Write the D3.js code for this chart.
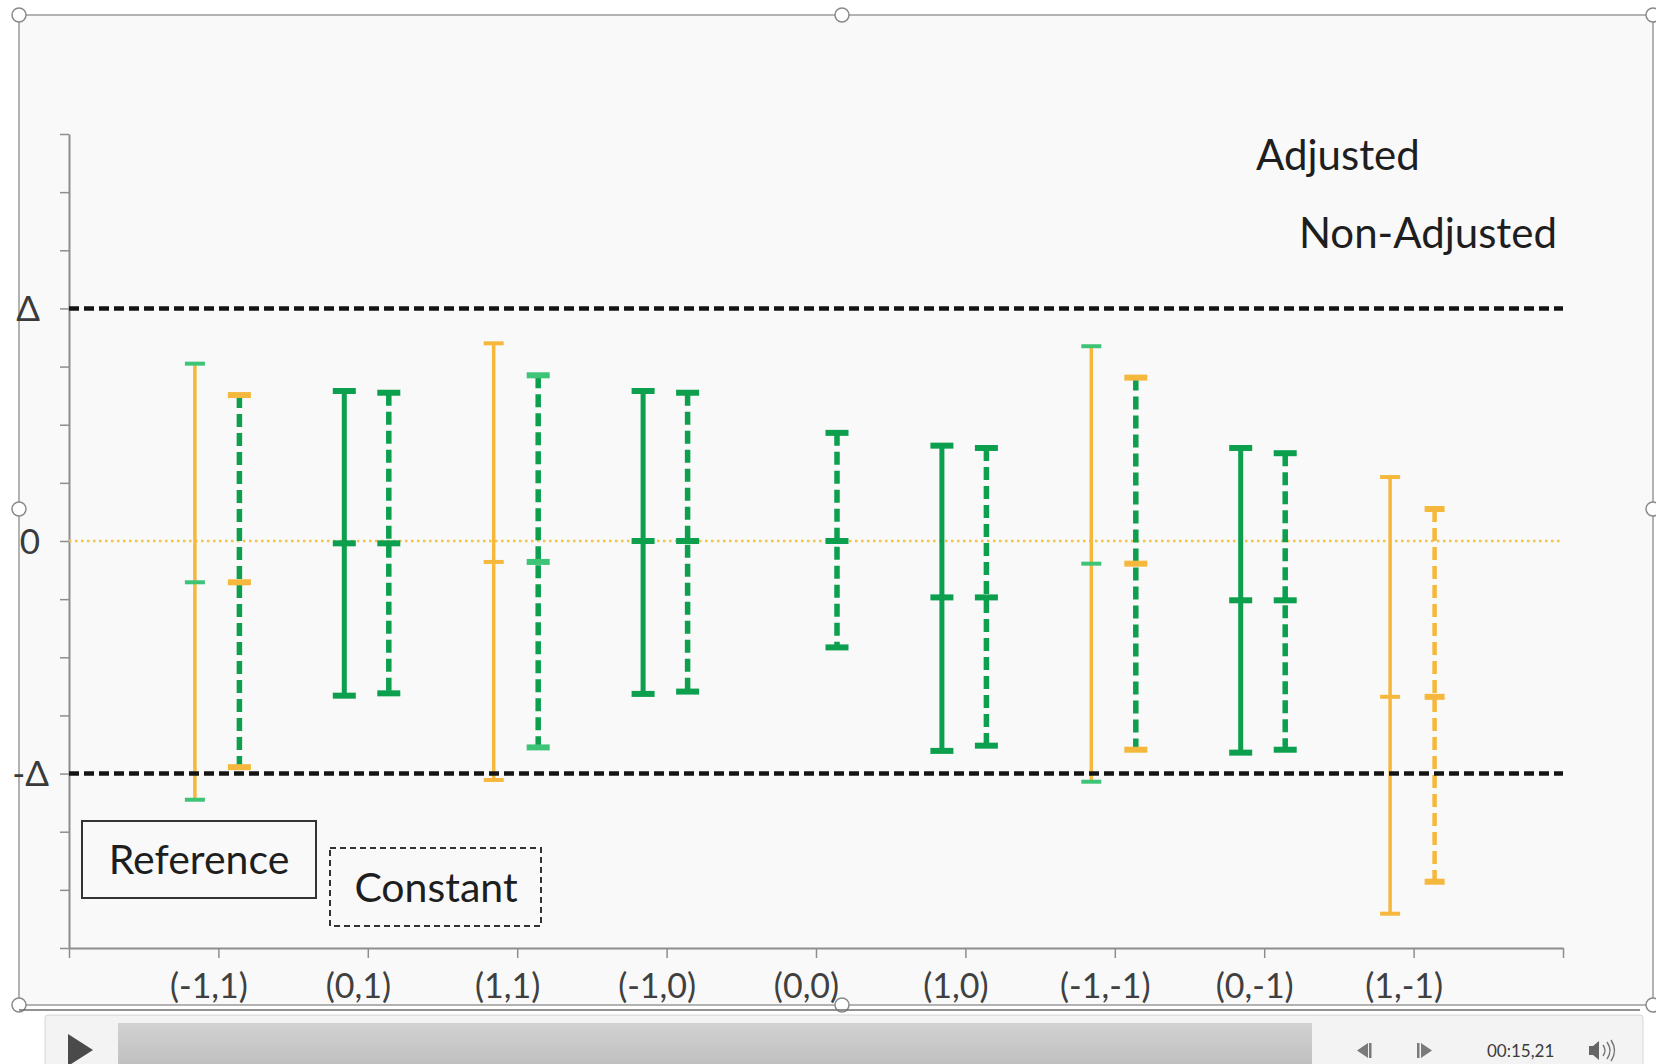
<!DOCTYPE html>
<html>
<head>
<meta charset="utf-8">
<script src="https://cdn.jsdelivr.net/npm/d3@7"></script>
<style>
  html, body { margin: 0; padding: 0; background: #ffffff; }
  svg { display: block; }
  text { font-family: Lato, "Open Sans", sans-serif; }
</style>
</head>
<body>
<div id="graph-container"></div>
<script>
const width = 1656;
const height = 1064;

// categories (x positions 1..9)
const categories = ["(-1,1)", "(0,1)", "(1,1)", "(-1,0)", "(0,0)", "(1,0)", "(-1,-1)", "(0,-1)", "(1,-1)"];

// "Reference" series (solid bars); (0,0) has none
const refLow  = [-4.45, -2.66, -4.11, -2.63, null, -3.61, -4.14, -3.64, -6.41];
const refMid  = [-0.71, -0.04, -0.36,  0.00, null, -0.97, -0.39, -1.02, -2.68];
const refHigh = [ 3.05,  2.58,  3.40,  2.58, null,  1.64,  3.35,  1.60,  1.10];
const refLine = ["amber", "green", "amber", "green", null, "green", "amber", "green", "amber"];
const refCap  = ["mint", "green", "amber", "green", null, "green", "mint", "green", "amber"];

// "Constant" series (dashed bars)
const constLow  = [-3.89, -2.62, -3.55, -2.59, -1.83, -3.52, -3.59, -3.59, -5.86];
const constMid  = [-0.71, -0.04, -0.36,  0.00,  0.00, -0.97, -0.39, -1.02, -2.68];
const constHigh = [ 2.51,  2.55,  2.85,  2.55,  1.86,  1.60,  2.81,  1.51,  0.55];
const constLine = ["green", "green", "green", "green", "green", "green", "green", "green", "amber"];
const constCap  = ["amber", "green", "mint", "green", "green", "green", "amber", "green", "amber"];

// margin lines and y labels
const delta = 4;
const yLabels = ["Δ", "0", "-Δ"];
const yLabelValues = [delta, 0, -delta];

const color = d3.scaleOrdinal()
    .domain(["amber", "green", "mint"])
    .range(["#f5b83d", "#0b9f4e", "#3dc477"]);

const svg = d3.select("#graph-container")
    .append("svg")
    .attr("width", width)
    .attr("height", height);

// slide background + selection frame
svg.append("rect")
    .attr("x", 19).attr("y", 15)
    .attr("width", 1634).attr("height", 990)
    .attr("fill", "#f9f9f9")
    .attr("stroke", "#9a9a9a")
    .attr("stroke-width", 1.5);

const x = d3.scaleLinear().domain([0, 10]).range([69, 1563]);
const y = d3.scaleLinear().domain([-7, 7]).range([948, 134]);

// axes
const yAxis = svg.append("g")
    .attr("transform", `translate(${x(0)},0)`)
    .call(d3.axisLeft(y).tickValues(d3.range(-7, 8)).tickSize(9).tickSizeOuter(0).tickFormat(""));
yAxis.select(".domain").attr("stroke", "#8e8e8e").attr("stroke-width", 2);
yAxis.selectAll(".tick line").attr("stroke", "#8e8e8e").attr("stroke-width", 1.5);

const xAxis = svg.append("g")
    .attr("transform", `translate(0,${y(-7)})`)
    .call(d3.axisBottom(x).tickValues(d3.range(0, 11)).tickSize(10).tickSizeOuter(0)
        .tickFormat(d => categories[d - 1] || ""));
xAxis.select(".domain").attr("stroke", "#8e8e8e").attr("stroke-width", 2);
xAxis.selectAll(".tick line").attr("stroke", "#8e8e8e").attr("stroke-width", 1.5);
xAxis.selectAll(".tick text")
    .attr("fill", "#404040")
    .attr("font-size", 34)
    .attr("dx", -10)
    .attr("dy", "1.1em");

// y labels (Δ, 0, -Δ)
svg.append("g")
    .selectAll("text")
    .data(yLabels)
    .join("text")
    .attr("x", (d, i) => i === 2 ? 49 : 40)
    .attr("y", (d, i) => y(yLabelValues[i]))
    .attr("dy", "0.36em")
    .attr("text-anchor", "end")
    .attr("font-size", 35)
    .attr("fill", "#3a3a3a")
    .text(d => d);

// zero line
svg.append("line")
    .attr("x1", x(0)).attr("x2", x(10))
    .attr("y1", y(0)).attr("y2", y(0))
    .attr("stroke", "#f5c340")
    .attr("stroke-width", 2.5)
    .attr("stroke-dasharray", "2.5,3.5");

// error bars
const bars = [];
categories.forEach((c, i) => {
    if (refLow[i] !== null) {
        bars.push({ pos: i + 1, dx: -23.5, lo: refLow[i], mid: refMid[i], hi: refHigh[i],
            line: refLine[i], cap: refCap[i], dashed: false });
    }
    bars.push({ pos: i + 1, dx: 21, lo: constLow[i], mid: constMid[i], hi: constHigh[i],
        line: constLine[i], cap: constCap[i], dashed: true });
});

const barG = svg.append("g");
barG.selectAll("line.bar")
    .data(bars)
    .join("line")
    .attr("class", "bar")
    .attr("x1", d => x(d.pos) + d.dx)
    .attr("x2", d => x(d.pos) + d.dx)
    .attr("y1", d => y(d.hi))
    .attr("y2", d => y(d.lo))
    .attr("stroke", d => color(d.line))
    .attr("stroke-width", d => d.line === "amber" ? (d.dashed ? 4.5 : 3.5) : (d.dashed ? 5.5 : 5))
    .attr("stroke-dasharray", d => d.dashed ? "13,6" : null);

const caps = bars.flatMap(d => [d.hi, d.mid, d.lo].map(v => ({ ...d, v })));
barG.selectAll("line.cap")
    .data(caps)
    .join("line")
    .attr("class", "cap")
    .attr("x1", d => x(d.pos) + d.dx - (d.line === "amber" ? 10 : 11.5))
    .attr("x2", d => x(d.pos) + d.dx + (d.line === "amber" ? 10 : 11.5))
    .attr("y1", d => y(d.v))
    .attr("y2", d => y(d.v))
    .attr("stroke", d => color(d.cap))
    .attr("stroke-width", d => d.line === "amber" && !d.dashed ? 4 : 6);

// ±Δ margin lines
svg.append("g")
    .selectAll("line")
    .data([delta, -delta])
    .join("line")
    .attr("x1", x(0)).attr("x2", x(10))
    .attr("y1", d => y(d)).attr("y2", d => y(d))
    .attr("stroke", "#141414")
    .attr("stroke-width", 4.5)
    .attr("stroke-dasharray", "10,5");

// text boxes
svg.append("text")
    .attr("x", 1256).attr("y", 170)
    .attr("font-size", 42).attr("fill", "#1e1e1e")
    .text("Adjusted");
svg.append("text")
    .attr("x", 1557).attr("y", 248)
    .attr("text-anchor", "end")
    .attr("font-size", 42).attr("fill", "#1e1e1e")
    .text("Non-Adjusted");

svg.append("rect")
    .attr("x", 82).attr("y", 821).attr("width", 234).attr("height", 77)
    .attr("fill", "none").attr("stroke", "#333").attr("stroke-width", 2);
svg.append("text")
    .attr("x", 199).attr("y", 874)
    .attr("text-anchor", "middle")
    .attr("font-size", 41).attr("fill", "#1e1e1e")
    .text("Reference");

svg.append("rect")
    .attr("x", 330).attr("y", 848).attr("width", 211).attr("height", 78)
    .attr("fill", "none").attr("stroke", "#333").attr("stroke-width", 2)
    .attr("stroke-dasharray", "6,4");
svg.append("text")
    .attr("x", 436).attr("y", 902)
    .attr("text-anchor", "middle")
    .attr("font-size", 41).attr("fill", "#1e1e1e")
    .text("Constant");

// selection handles
const handles = [[19, 15], [842, 15], [1653, 15], [19, 509], [1653, 509], [19, 1005], [842, 1005], [1653, 1005]];
svg.append("g")
    .selectAll("circle")
    .data(handles)
    .join("circle")
    .attr("cx", d => d[0]).attr("cy", d => d[1])
    .attr("r", 7)
    .attr("fill", "#ffffff")
    .attr("stroke", "#8a8a8a")
    .attr("stroke-width", 1.5);

// media player bar
svg.append("line")
    .attr("x1", 19).attr("x2", 1640)
    .attr("y1", 1010).attr("y2", 1010)
    .attr("stroke", "#6e6e6e").attr("stroke-width", 1.5);

const defs = svg.append("defs");
const grad = defs.append("linearGradient")
    .attr("id", "progress").attr("x1", 0).attr("x2", 0).attr("y1", 0).attr("y2", 1);
grad.append("stop").attr("offset", "0%").attr("stop-color", "#d2d2d2");
grad.append("stop").attr("offset", "100%").attr("stop-color", "#bcbcbc");

svg.append("rect")
    .attr("x", 45).attr("y", 1015).attr("width", 1598).attr("height", 60)
    .attr("rx", 3)
    .attr("fill", "#f3f3f3").attr("stroke", "#d6d6d6");
svg.append("rect")
    .attr("x", 118).attr("y", 1023).attr("width", 1194).attr("height", 50)
    .attr("fill", "url(#progress)");
svg.append("path")
    .attr("d", "M68,1034 L93,1050 L68,1066 Z")
    .attr("fill", "#4a4a4a");

svg.append("path")
    .attr("d", "M1368,1043 L1368,1058 L1357,1050.5 Z M1369,1043 h2.5 v15 h-2.5 Z")
    .attr("fill", "#7a7a7a");
svg.append("path")
    .attr("d", "M1417,1043 h2.5 v15 h-2.5 Z M1421,1043 L1432,1050.5 L1421,1058 Z")
    .attr("fill", "#7a7a7a");
svg.append("text")
    .attr("x", 1487).attr("y", 1057)
    .attr("font-size", 17).attr("fill", "#3c3c3c")
    .attr("font-family", "'Open Sans', sans-serif")
    .text("00:15,21");
svg.append("path")
    .attr("d", "M1589,1046 h4 l6,-5 v19 l-6,-5 h-4 Z")
    .attr("fill", "#666");
svg.append("path")
    .attr("d", "M1603,1045 q4,5.5 0,11 M1607,1042 q6,8.5 0,17 M1611,1040 q7,10.5 0,21")
    .attr("fill", "none").attr("stroke", "#777").attr("stroke-width", 1.5);
</script>
</body>
</html>
